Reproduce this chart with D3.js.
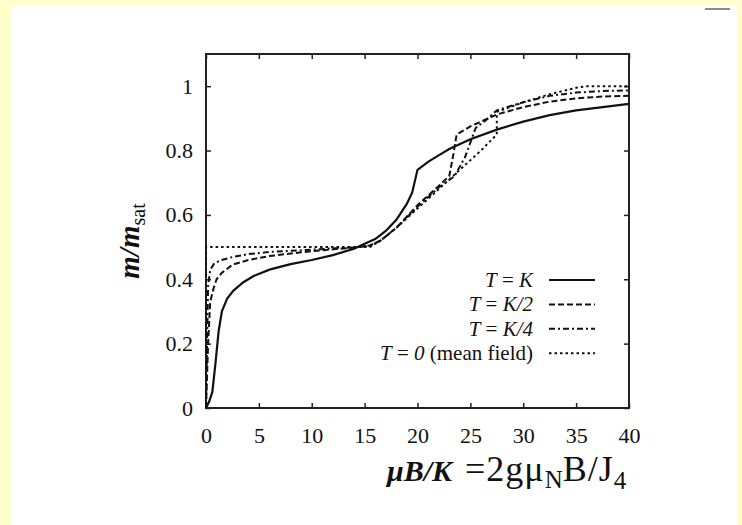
<!DOCTYPE html>
<html>
<head>
<meta charset="utf-8">
<script src="https://cdn.jsdelivr.net/npm/d3@7"></script>
<style>
  body { margin: 0; background: #FFFFCC; }
  svg { display: block; }
  text { font-family: "Liberation Serif", "Times New Roman", serif; fill: #111; }
</style>
</head>
<body>
<svg id="chart" width="742" height="525"></svg>
<script>
// Magnetisation curves m/m_sat versus reduced field muB/K
const xTicks = [0, 5, 10, 15, 20, 25, 30, 35, 40];
const yTicks = [0, 0.2, 0.4, 0.6, 0.8, 1];

// T = K
const fieldTK = [0, 0.3, 0.6, 0.9, 1.2, 1.5, 2, 2.6, 3.5, 4.5, 6, 8, 10, 12, 14, 15, 16, 17, 18, 19, 19.5, 20, 21, 22, 23, 25, 27.5, 30, 32.5, 35, 37.5, 40];
const magTK   = [0, 0.02, 0.05, 0.14, 0.24, 0.3, 0.34, 0.365, 0.39, 0.41, 0.43, 0.447, 0.46, 0.475, 0.495, 0.51, 0.525, 0.55, 0.585, 0.635, 0.67, 0.74, 0.765, 0.785, 0.805, 0.835, 0.865, 0.89, 0.91, 0.925, 0.935, 0.945];

// T = K/2
const fieldTK2 = [0, 0.2, 0.4, 0.7, 1, 1.5, 2.5, 4, 6, 9, 12, 14, 15.5, 16.5, 18, 20, 22, 23, 23.4, 23.7, 25, 27.5, 30, 32.5, 35, 37.5, 40];
const magTK2   = [0, 0.2, 0.33, 0.37, 0.4, 0.42, 0.445, 0.46, 0.472, 0.484, 0.493, 0.498, 0.505, 0.52, 0.56, 0.63, 0.69, 0.72, 0.79, 0.85, 0.875, 0.912, 0.935, 0.952, 0.962, 0.968, 0.97];

// T = K/4
const fieldTK4 = [0, 0.1, 0.2, 0.4, 0.8, 1.5, 2.6, 4, 6, 9, 12, 14, 15.5, 16.5, 18, 20, 22, 23.5, 24.5, 25.5, 26.5, 27.5, 30, 32.5, 35, 37.5, 40];
const magTK4   = [0, 0.2, 0.38, 0.43, 0.45, 0.46, 0.47, 0.478, 0.485, 0.49, 0.496, 0.499, 0.505, 0.52, 0.56, 0.625, 0.685, 0.72, 0.78, 0.87, 0.895, 0.925, 0.95, 0.97, 0.98, 0.985, 0.987];

// T = 0 (mean field)
const fieldT0 = [0, 0, 5, 10, 15.5, 16.5, 18, 20, 22, 24, 26, 27.5, 27.5, 30, 32.5, 35, 36, 40];
const magT0   = [0, 0.5, 0.5, 0.5, 0.5, 0.52, 0.56, 0.62, 0.68, 0.74, 0.8, 0.85, 0.92, 0.95, 0.975, 0.995, 1, 1];

const seriesNames = ["T = K", "T = K/2", "T = K/4", "T = 0 (mean field)"];
const seriesDash = ["none", "6,3", "6,3,2,3", "2.5,3"];

const series = [
  { field: fieldTK,  mag: magTK },
  { field: fieldTK2, mag: magTK2 },
  { field: fieldTK4, mag: magTK4 },
  { field: fieldT0,  mag: magT0 }
].map((s, i) => ({
  name: seriesNames[i],
  dash: seriesDash[i],
  points: s.field.map((f, j) => [f, s.mag[j]])
}));

const svg = d3.select("#chart");

// white page area
svg.append("rect").attr("x", 12).attr("y", 6).attr("width", 725).attr("height", 519).attr("fill", "#fff");
svg.append("line").attr("x1", 705).attr("x2", 730).attr("y1", 9).attr("y2", 9)
  .attr("stroke", "#8a8a8a").attr("stroke-width", 2);

const plotLeft = 206, plotRight = 629, plotTop = 54, plotBottom = 408;
const x = d3.scaleLinear().domain([0, 40]).range([plotLeft, plotRight]);
const y = d3.scaleLinear().domain([0, 1.1]).range([plotBottom, plotTop]);

const axisFont = 22;

const gB = svg.append("g").attr("transform", `translate(0,${plotBottom})`)
  .call(d3.axisBottom(x).tickValues(xTicks).tickSize(-5).tickPadding(19).tickFormat(d => String(d)));
const gL = svg.append("g").attr("transform", `translate(${plotLeft},0)`)
  .call(d3.axisLeft(y).tickValues(yTicks).tickSize(-5).tickPadding(13).tickFormat(d => String(d)));
const gT = svg.append("g").attr("transform", `translate(0,${plotTop})`)
  .call(d3.axisTop(x).tickValues(xTicks).tickSize(-5).tickFormat(""));
const gR = svg.append("g").attr("transform", `translate(${plotRight},0)`)
  .call(d3.axisRight(y).tickValues(yTicks).tickSize(-5).tickFormat(""));

[gB, gL, gT, gR].forEach(g => {
  g.select(".domain").remove();
  g.selectAll(".tick line").attr("stroke", "#222").attr("stroke-width", 1.5);
  g.selectAll(".tick text").attr("font-family", '"Liberation Serif", "Times New Roman", serif')
    .attr("font-size", axisFont).attr("fill", "#111");
});

svg.append("rect").attr("x", plotLeft).attr("y", plotTop)
  .attr("width", plotRight - plotLeft).attr("height", plotBottom - plotTop)
  .attr("fill", "none").attr("stroke", "#222").attr("stroke-width", 2);

// curves
const line = d3.line().x(d => x(d[0])).y(d => y(d[1]));
svg.append("g").selectAll("path").data(series).join("path")
  .attr("d", d => line(d.points))
  .attr("fill", "none")
  .attr("stroke", "#111")
  .attr("stroke-width", d => d.dash === "none" ? 2.2 : 2)
  .attr("stroke-dasharray", d => d.dash === "none" ? null : d.dash);

// legend
const legendLabels = [
  [["T", "i"], [" = ", "n"], ["K", "i"]],
  [["T", "i"], [" = ", "n"], ["K/2", "i"]],
  [["T", "i"], [" = ", "n"], ["K/4", "i"]],
  [["T", "i"], [" = ", "n"], ["0", "i"], [" (mean field)", "n"]]
];
const legend = svg.append("g");
series.forEach((s, i) => {
  const yy = 280 + i * 24.4;
  const t = legend.append("text").attr("x", 533).attr("y", yy + 7)
    .attr("text-anchor", "end").attr("font-size", 21);
  legendLabels[i].forEach(p => {
    t.append("tspan").text(p[0]).attr("font-style", p[1] === "i" ? "italic" : "normal");
  });
  legend.append("line").attr("x1", 549).attr("x2", 595).attr("y1", yy).attr("y2", yy)
    .attr("stroke", "#111").attr("stroke-width", 2)
    .attr("stroke-dasharray", s.dash === "none" ? null : s.dash);
});

// y-axis title
const yTitle = svg.append("text")
  .attr("transform", "translate(139,241) rotate(-90)")
  .attr("text-anchor", "middle").attr("font-size", 29);
yTitle.append("tspan").attr("font-style", "italic").attr("font-weight", "bold").text("m/m");
yTitle.append("tspan").attr("font-size", 20).attr("dy", 6).text("sat");

// x-axis title
const xTitle = svg.append("text").attr("x", 387).attr("y", 481).attr("font-size", 30);
xTitle.append("tspan").attr("font-style", "italic").attr("font-weight", "bold").text("μB/K");
xTitle.append("tspan").attr("dx", 13).attr("font-size", 36).attr("letter-spacing", 1).text("=2gμ");
xTitle.append("tspan").attr("font-size", 25).attr("dy", 7).text("N");
xTitle.append("tspan").attr("font-size", 36).attr("dy", -7).attr("letter-spacing", 1).text("B/J");
xTitle.append("tspan").attr("font-size", 25).attr("dy", 8).text("4");
</script>
</body>
</html>
